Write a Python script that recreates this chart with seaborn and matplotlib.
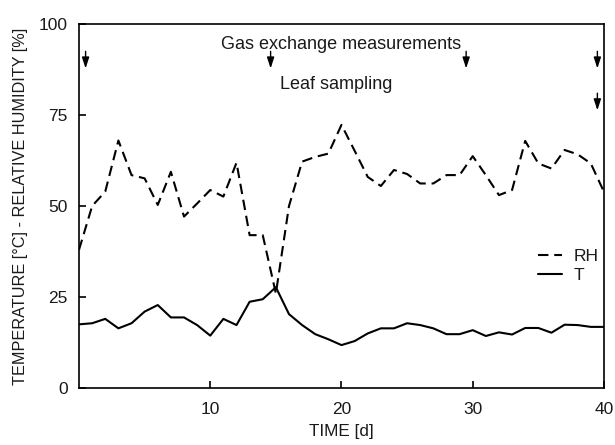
import matplotlib
matplotlib.use("Agg")
import matplotlib.pyplot as plt
import seaborn as sns
import pandas as pd

days = list(range(0, 41))
rh = [38, 50, 54, 68, 58.5, 57.6, 50.3, 59.4, 47.1, 50.7, 54.4, 52.6, 61.9, 42, 42, 26,
      50, 62.2, 63.5, 64.4, 72.3, 65.2, 58, 55.5, 59.9, 58.8, 56.2, 56.2, 58.5, 58.5,
      63.7, 58.5, 53, 54.4, 67.9, 61.7, 60.3, 65.4, 64.2, 61.7, 53.9]
temp = [17.5, 17.8, 19.0, 16.4, 17.8, 21.0, 22.8, 19.4, 19.4, 17.3, 14.4, 19.0, 17.3, 23.7,
        24.4, 27.7, 20.3, 17.3, 14.8, 13.4, 11.8, 12.9, 15.0, 16.4, 16.4, 17.8, 17.3, 16.4,
        14.8, 14.8, 15.9, 14.3, 15.3, 14.7, 16.5, 16.5, 15.2, 17.4, 17.3, 16.8, 16.8]

gas_days = [0.5, 14.6, 29.5, 39.5]
leaf_days = [39.5]

sns.set_theme(style="ticks")
plt.rcParams['font.family'] = ['Liberation Sans', 'DejaVu Sans']
plt.rcParams['text.color'] = '#1a1a1a'

df = pd.DataFrame({"day": days, "RH": rh, "T": temp})

fig = plt.figure(figsize=(6.15, 4.45), dpi=100)
ax = fig.add_axes([0.1285, 0.128, 0.8535, 0.818])

sns.lineplot(data=df, x="day", y="RH", ax=ax, color="black", lw=1.5,
             linestyle=(0, (5, 2.8)), label="RH")
sns.lineplot(data=df, x="day", y="T", ax=ax, color="black", lw=1.5, label="T")

ax.set_xlim(0, 40)
ax.set_ylim(0, 100)
ax.set_xticks([10, 20, 30, 40])
ax.set_yticks([0, 25, 50, 75, 100])
ax.tick_params(direction="in", length=5, width=1.2, labelsize=12.5, colors="black",
               labelcolor="#1a1a1a")
ax.tick_params(axis="y", pad=8)
ax.tick_params(axis="x", pad=10)
for s in ax.spines.values():
    s.set_color("black")
    s.set_linewidth(1.2)

ax.set_xlabel("TIME [d]", fontsize=12.3, color="#1a1a1a", labelpad=5)
ax.set_ylabel("TEMPERATURE [\u00b0C] - RELATIVE HUMIDITY [%]", fontsize=11.7,
              color="#1a1a1a", labelpad=8)

arrow_style = "-|>,head_length=0.55,head_width=0.18"
for d in gas_days:
    ax.annotate("", xy=(d, 87.8), xytext=(d, 92.5),
                arrowprops=dict(arrowstyle=arrow_style, color="black", lw=1, shrinkA=0, shrinkB=0))
for d in leaf_days:
    ax.annotate("", xy=(d, 76.3), xytext=(d, 81),
                arrowprops=dict(arrowstyle=arrow_style, color="black", lw=1, shrinkA=0, shrinkB=0))

ax.text(20, 94.5, "Gas exchange measurements", ha="center", va="center", fontsize=13)
ax.text(19.6, 83.5, "Leaf sampling", ha="center", va="center", fontsize=13)

leg = ax.legend(loc="center right", bbox_to_anchor=(1.02, 0.335), frameon=False,
                fontsize=12.5, handlelength=1.35, handletextpad=0.7, labelspacing=0.25)

fig.savefig("out.png", dpi=100)
